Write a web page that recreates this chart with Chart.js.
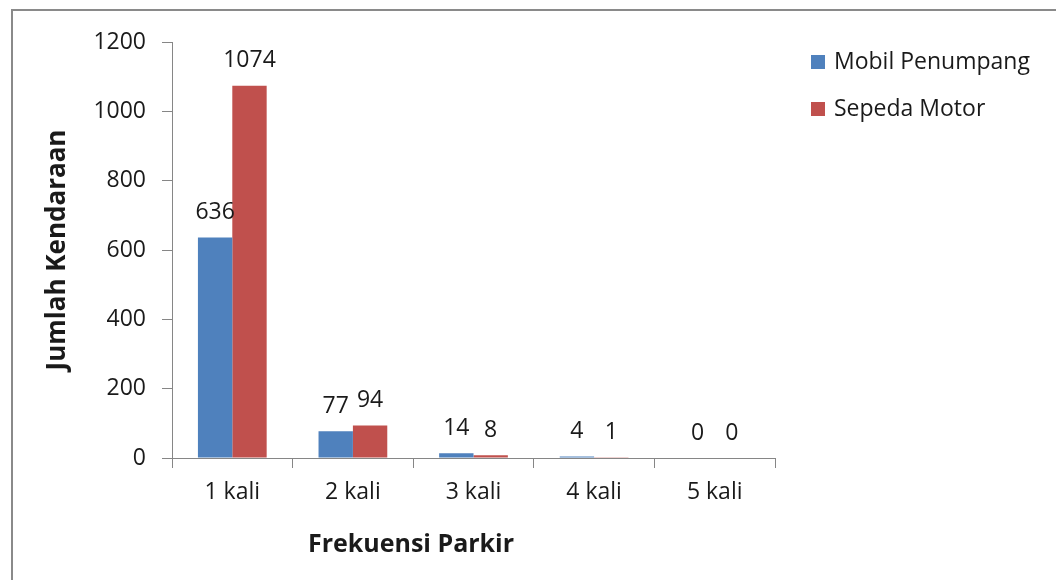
<!DOCTYPE html>
<html>
<head>
<meta charset="utf-8">
<script src="https://cdn.jsdelivr.net/npm/chart.js@4.4.1/dist/chart.umd.min.js"></script>
<style>
  html, body { margin: 0; padding: 0; background: #fff; }
  body { width: 1056px; height: 580px; position: relative; overflow: hidden; }
  #frame {
    position: absolute; left: 11px; top: 9px; width: 1100px; height: 620px;
    border-left: 2px solid #8a8a8a; border-top: 2px solid #8a8a8a;
  }
  #wrap { position: absolute; left: 0; top: 0; width: 1056px; height: 580px; }
</style>
</head>
<body>
<div id="frame"></div>
<div id="wrap"><canvas id="chart" width="1056" height="580"></canvas></div>
<script>
'use strict';

// ─── Data ────────────────────────────────────────────────────────────────
const categories   = ['1 kali', '2 kali', '3 kali', '4 kali', '5 kali'];
const mobilValues  = [636, 77, 14, 4, 0];
const motorValues  = [1074, 94, 8, 1, 0];
const seriesNames  = ['Mobil Penumpang', 'Sepeda Motor'];
const yTicks       = [0, 200, 400, 600, 800, 1000, 1200];
const xTitle       = 'Frekuensi Parkir';
const yTitle       = 'Jumlah Kendaraan';

const FONT = '"Open Sans", "DejaVu Sans", sans-serif';
const TEXT = '#1a1a1a';
const AXIS = '#868686';

// value labels above each bar
const valueLabels = {
  id: 'valueLabels',
  afterDatasetsDraw(chart) {
    const ctx = chart.ctx;
    ctx.save();
    ctx.font = `23px ${FONT}`;
    ctx.fillStyle = TEXT;
    ctx.textAlign = 'center';
    ctx.textBaseline = 'middle';
    chart.data.datasets.forEach((ds, i) => {
      chart.getDatasetMeta(i).data.forEach((bar, j) => {
        ctx.fillText(String(ds.data[j]), bar.x, bar.y - 25);
      });
    });
    ctx.restore();
  },
};

// legend + x title, placed like the original (title sits left of centre)
const sideLegend = {
  id: 'sideLegend',
  afterDraw(chart) {
    const ctx = chart.ctx;
    ctx.save();
    ctx.font = `23px ${FONT}`;
    ctx.textBaseline = 'middle';
    ctx.textAlign = 'left';
    chart.data.datasets.forEach((ds, i) => {
      const cy = 62 + i * 47;
      ctx.fillStyle = ds.backgroundColor;
      ctx.fillRect(811, cy - 7, 14, 14);
      ctx.fillStyle = TEXT;
      ctx.fillText(ds.label, 834, cy);
    });
    ctx.font = `bold 25px ${FONT}`;
    ctx.textAlign = 'center';
    ctx.fillText(xTitle, 411, chart.scales.x.bottom - 35);
    ctx.restore();
  },
};

new Chart(document.getElementById('chart'), {
  type: 'bar',
  data: {
    labels: categories,
    datasets: [
      { label: seriesNames[0], data: mobilValues, backgroundColor: '#4F81BD' },
      { label: seriesNames[1], data: motorValues, backgroundColor: '#C0504D' },
    ],
  },
  options: {
    responsive: false,
    animation: false,
    layout: { padding: { top: 42, right: 281, bottom: 0, left: 0 } },
    datasets: { bar: { categoryPercentage: 0.57, barPercentage: 1.0 } },
    plugins: { legend: { display: false }, tooltip: { enabled: false } },
    scales: {
      x: {
        grid: { display: true, drawOnChartArea: false, color: AXIS, tickLength: 10, offset: true },
        border: { display: true, color: AXIS, width: 1 },
        ticks: { color: TEXT, font: { family: FONT, size: 23 }, padding: 11 },
        afterFit(scale) { scale.height = 122; },
      },
      y: {
        min: 0, max: 1200,
        afterBuildTicks(scale) { scale.ticks = yTicks.map(v => ({ value: v })); },
        grid: { display: true, drawOnChartArea: false, color: AXIS, tickLength: 10 },
        border: { display: true, color: AXIS, width: 1 },
        ticks: { color: TEXT, font: { family: FONT, size: 23 }, padding: 16, callback: v => String(v) },
        title: {
          display: true, text: yTitle, color: TEXT,
          font: { family: FONT, size: 26, weight: 'bold', lineHeight: 1.2 },
          padding: { top: 42, bottom: 0 },
        },
        afterFit(scale) { scale.width = 172; },
      },
    },
  },
  plugins: [valueLabels, sideLegend],
});
</script>
</body>
</html>
